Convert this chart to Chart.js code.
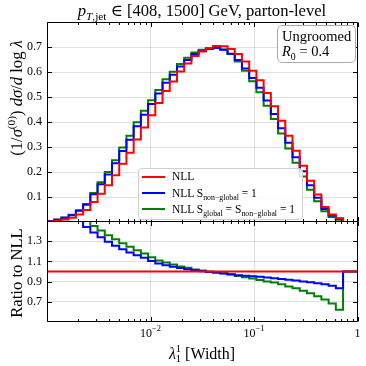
<!DOCTYPE html>
<html>
<head>
<meta charset="utf-8">
<title>Width distribution, ungroomed</title>
<script src="https://cdn.jsdelivr.net/npm/chart.js@4.4.1/dist/chart.umd.min.js"></script>
<style>
  html, body { margin: 0; padding: 0; background: #fff; }
  #figure { position: relative; width: 366px; height: 366px; overflow: hidden;
            font-family: 'Liberation Serif', 'DejaVu Serif', serif; color: #000; }
  #figure canvas { position: absolute; left: 0; top: 0; }
  .txt { position: absolute; white-space: nowrap; line-height: 1; }
  .txt sub, .txt sup { font-size: 0.68em; line-height: 0; }
  .rot { transform: translate(-50%, -50%) rotate(-90deg); }
  .centered { transform: translateX(-50%); }
  #legendBox { position: absolute; left: 138px; top: 168px; width: 165px; height: 52px;
               box-sizing: border-box; border: 1px solid #d0d0d0; border-radius: 4px;
               background: rgba(255,255,255,0.85); }
  .swatch { position: absolute; left: 142px; width: 23px; height: 2px; }
  .leg { font-size: 11.5px; left: 172px; }
  #infoBox { position: absolute; left: 277px; top: 25px; width: 79px; height: 38px;
             box-sizing: border-box; border: 1px solid #aaa; border-radius: 5px; background: #fff; }
  .info { font-size: 14.5px; left: 282px; }
  .stack { display: inline-block; vertical-align: -0.32em; font-size: 0.66em; line-height: 0.95; text-align: left; }
</style>
</head>
<body>
<div id="figure">
  <canvas id="mainChart" width="366" height="366"></canvas>
  <canvas id="ratioChart" width="366" height="366"></canvas>

  <div class="txt centered" style="left:202px; top:2.5px; font-size:16.6px;"><i>p</i><sub><i>T</i>,jet</sub> ∈ [408, 1500] GeV, parton-level</div>

  <div class="txt rot" style="left:17px; top:98px; font-size:16.6px;">(1/<i>σ</i><sup>(0)</sup>) <i>dσ</i>/<i>d</i> log <i>λ</i></div>
  <div class="txt rot" style="left:17px; top:273px; font-size:16.6px;">Ratio to NLL</div>
  <div class="txt centered" style="left:202px; top:344px; font-size:16px;"><i>λ</i><span class="stack">1<br>1</span> [Width]</div>

  <div id="infoBox"></div>
  <div class="txt info" style="top:28.6px;">Ungroomed</div>
  <div class="txt info" style="top:43.6px;"><i>R</i><sub>0</sub> = 0.4</div>

  <div id="legendBox"></div>
  <div class="swatch" style="top:176px; background:#ff0000;"></div>
  <div class="swatch" style="top:191.5px; background:#0000ff;"></div>
  <div class="swatch" style="top:208px; background:#008000;"></div>
  <div class="txt leg" style="top:171.1px;">NLL</div>
  <div class="txt leg" style="top:187.7px;">NLL S<sub>non−global</sub> = 1</div>
  <div class="txt leg" style="top:204.4px;">NLL S<sub>global</sub> = S<sub>non−global</sub> = 1</div>
</div>

<script>
/* ---------- binning: 43 log-spaced bins between 1e-3 and 1 ---------- */
const LOG_MIN = -3, LOG_MAX = 0, N_BINS = 43;
const binEdges = Array.from({ length: N_BINS + 1 }, (_, i) => Math.pow(10, LOG_MIN + (LOG_MAX - LOG_MIN) * i / N_BINS));

/* ---------- distributions, one value per bin ---------- */
const nll = [0.002, 0.005, 0.010, 0.017, 0.030, 0.048, 0.080, 0.113, 0.147, 0.187,
             0.233, 0.277, 0.330, 0.378, 0.427, 0.476, 0.524, 0.562, 0.602, 0.634,
             0.664, 0.682, 0.695, 0.704, 0.703, 0.692, 0.672, 0.642, 0.605, 0.567,
             0.516, 0.463, 0.405, 0.345, 0.285, 0.225, 0.165, 0.110, 0.060, 0.030,
             0.015, 0, 0];
const nllNonGlobal1 = [0.004, 0.009, 0.017, 0.027, 0.045, 0.069, 0.111, 0.151, 0.190, 0.235,
                       0.284, 0.329, 0.383, 0.429, 0.472, 0.514, 0.557, 0.589, 0.622, 0.648,
                       0.672, 0.684, 0.692, 0.696, 0.689, 0.673, 0.648, 0.614, 0.576, 0.537,
                       0.486, 0.432, 0.375, 0.317, 0.259, 0.203, 0.147, 0.097, 0.052, 0.026,
                       0.013, 0, 0];
const nllAll1 = [0.004, 0.010, 0.018, 0.029, 0.047, 0.072, 0.116, 0.159, 0.200, 0.247,
                 0.298, 0.345, 0.399, 0.445, 0.487, 0.528, 0.571, 0.601, 0.632, 0.657,
                 0.678, 0.689, 0.695, 0.698, 0.690, 0.672, 0.642, 0.605, 0.563, 0.519,
                 0.465, 0.412, 0.354, 0.294, 0.237, 0.182, 0.129, 0.083, 0.043, 0.020,
                 0.009, 0, 0];

/* ---------- ratios to NLL ---------- */
const ratioNLL = [1, 1, 1, 1, 1, 1, 1, 1, 1, 1, 1, 1, 1, 1, 1, 1, 1, 1, 1, 1, 1, 1,
                  1, 1, 1, 1, 1, 1, 1, 1, 1, 1, 1, 1, 1, 1, 1, 1, 1, 1, 1, 1, 1];
const ratioNonGlobal1 = [1.90, 1.78, 1.66, 1.57, 1.50, 1.44, 1.386, 1.338, 1.294, 1.256,
                         1.220, 1.188, 1.160, 1.135, 1.105, 1.080, 1.063, 1.048, 1.034, 1.022,
                         1.012, 1.003, 0.996, 0.988, 0.980, 0.972, 0.964, 0.957, 0.952, 0.947,
                         0.941, 0.934, 0.926, 0.918, 0.910, 0.902, 0.893, 0.884, 0.874, 0.858,
                         0.834, 1, 1];
const ratioAll1 = [2.10, 1.95, 1.80, 1.68, 1.58, 1.51, 1.45, 1.405, 1.36, 1.32,
                   1.28, 1.244, 1.21, 1.178, 1.14, 1.11, 1.09, 1.07, 1.05, 1.036,
                   1.021, 1.01, 1.0, 0.992, 0.982, 0.971, 0.956, 0.942, 0.93, 0.916,
                   0.902, 0.89, 0.874, 0.852, 0.833, 0.81, 0.784, 0.756, 0.722, 0.682,
                   0.621, 1, 1];

/* ---------- tick labels ---------- */
const yTicksMain = [0.1, 0.2, 0.3, 0.4, 0.5, 0.6, 0.7];
const yTicksRatio = [0.7, 0.9, 1.1, 1.3];
const xTickValues = [0.01, 0.1, 1];
const xTickBase = ['10', '10', '1'];
const xTickExp = ['−2', '−1', ''];

const RED = '#ff0000', BLUE = '#0000ff', GREEN = '#008000';
const GRID = 'rgba(0,0,0,0.12)';
const FONT = "'Liberation Serif', 'DejaVu Serif', serif";

// histogram bins -> points for a stepped line (last edge closes the final bin)
function stepPoints(vals) {
    const pts = vals.map((v, i) => ({ x: binEdges[i], y: v }));
    pts.push({ x: binEdges[vals.length], y: vals[vals.length - 1] });
    return pts;
}

function isDecade(v) {
    const l = Math.log10(v);
    return Math.abs(l - Math.round(l)) < 1e-6 && l > LOG_MIN + 0.01 && l < LOG_MAX - 0.01;
}

/* frame, inward ticks on all four sides, and the x tick labels with exponents */
const axisDecor = {
    id: 'axisDecor',
    afterDatasetsDraw(chart, args, opts) {
        const { ctx, chartArea: a } = chart;
        const xs = chart.scales.x, ys = chart.scales.y;
        const L = Math.round(a.left) + 0.5, R = Math.round(a.right) - 0.5;
        const T = Math.round(a.top) + 0.5, B = Math.round(a.bottom) - 0.5;
        ctx.save();
        ctx.strokeStyle = '#000';
        ctx.lineWidth = 1;
        ctx.beginPath();
        for (let e = LOG_MIN; e <= LOG_MAX; e++) {
            for (let m = 1; m <= 9; m++) {
                const v = m * Math.pow(10, e);
                if (v > Math.pow(10, LOG_MAX) * 1.0001) break;
                const px = Math.round(xs.getPixelForValue(v)) + 0.5;
                const len = m === 1 ? 4.5 : 2.5;
                ctx.moveTo(px, B); ctx.lineTo(px, B - len);
                ctx.moveTo(px, T); ctx.lineTo(px, T + len);
            }
        }
        opts.yTicks.forEach(v => {
            const py = Math.round(ys.getPixelForValue(v)) + 0.5;
            ctx.moveTo(L, py); ctx.lineTo(L + 4.5, py);
            ctx.moveTo(R, py); ctx.lineTo(R - 4.5, py);
        });
        ctx.rect(L, T, R - L, B - T);
        ctx.stroke();

        if (opts.xLabels) {
            ctx.fillStyle = '#000';
            ctx.textAlign = 'left';
            ctx.textBaseline = 'alphabetic';
            xTickValues.forEach((v, i) => {
                const px = xs.getPixelForValue(v);
                ctx.font = '12px ' + FONT;
                const wb = ctx.measureText(xTickBase[i]).width;
                ctx.font = '8.5px ' + FONT;
                const we = xTickExp[i] ? ctx.measureText(xTickExp[i]).width : 0;
                const x0 = px - (wb + we) / 2;
                ctx.font = '12px ' + FONT;
                ctx.fillText(xTickBase[i], x0, a.bottom + 15);
                if (xTickExp[i]) {
                    ctx.font = '8.5px ' + FONT;
                    ctx.fillText(xTickExp[i], x0 + wb, a.bottom + 9);
                }
            });
        }
        ctx.restore();
    }
};

function lineSet(label, vals, color) {
    return {
        label: label,
        data: stepPoints(vals),
        borderColor: color,
        borderWidth: 2,
        pointRadius: 0,
        stepped: 'before',
        fill: false,
        borderJoinStyle: 'miter'
    };
}

function xScale(hidden) {
    return {
        type: 'logarithmic',
        min: Math.pow(10, LOG_MIN),
        max: Math.pow(10, LOG_MAX),
        ticks: { display: false },
        grid: { drawTicks: false, color: c => (c.tick && isDecade(c.tick.value)) ? GRID : 'rgba(0,0,0,0)' },
        border: { display: false },
        afterFit: s => { s.height = hidden; }
    };
}

function yScale(min, max, step, labels) {
    return {
        min: min,
        max: max,
        ticks: {
            stepSize: step,
            padding: 5,
            color: '#000',
            font: { family: FONT, size: 12 },
            callback: v => labels.includes(+(+v).toFixed(1)) ? (+v).toFixed(1) : ''
        },
        grid: {
            drawTicks: false,
            color: c => (c.tick && labels.includes(+(+c.tick.value).toFixed(1))) ? GRID : 'rgba(0,0,0,0)'
        },
        border: { display: false },
        afterFit: s => { s.width = 47; }
    };
}

const commonOpts = {
    responsive: false,
    animation: false,
    devicePixelRatio: 1,
    events: [],
    plugins: { legend: { display: false }, tooltip: { enabled: false } }
};

/* ---------- upper panel ---------- */
new Chart(document.getElementById('mainChart'), {
    type: 'line',
    data: {
        datasets: [
            lineSet('NLL', nll, RED),
            lineSet('NLL Snon-global = 1', nllNonGlobal1, BLUE),
            lineSet('NLL Sglobal = Snon-global = 1', nllAll1, GREEN)
        ]
    },
    options: Object.assign({}, commonOpts, {
        layout: { padding: { left: 0, right: 8.5, top: 22, bottom: 144 } },
        scales: { x: xScale(0), y: yScale(0, 0.8, 0.1, yTicksMain) },
        plugins: Object.assign({}, commonOpts.plugins, { axisDecor: { yTicks: yTicksMain, xLabels: false } })
    }),
    plugins: [axisDecor]
});

/* ---------- ratio panel ---------- */
new Chart(document.getElementById('ratioChart'), {
    type: 'line',
    data: {
        datasets: [
            lineSet('NLL', ratioNLL, RED),
            lineSet('NLL Snon-global = 1', ratioNonGlobal1, BLUE),
            lineSet('NLL Sglobal = Snon-global = 1', ratioAll1, GREEN)
        ]
    },
    options: Object.assign({}, commonOpts, {
        layout: { padding: { left: 0, right: 8.5, top: 221, bottom: 0 } },
        scales: { x: xScale(44), y: yScale(0.5, 1.5, 0.2, yTicksRatio) },
        plugins: Object.assign({}, commonOpts.plugins, { axisDecor: { yTicks: yTicksRatio, xLabels: true } })
    }),
    plugins: [axisDecor]
});
</script>
</body>
</html>
